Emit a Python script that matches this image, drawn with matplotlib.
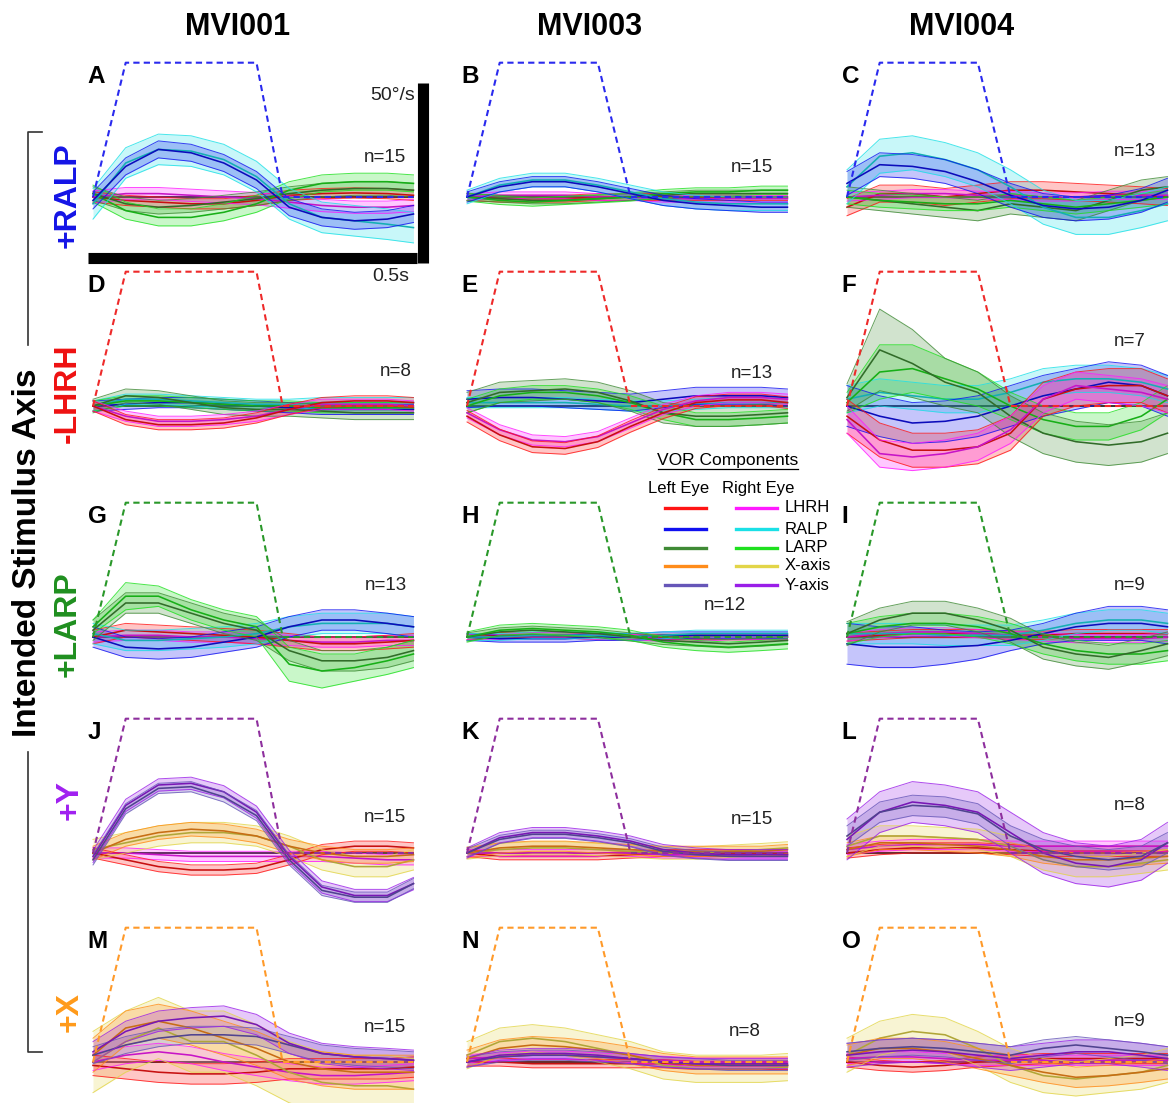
import numpy as np
import matplotlib.pyplot as plt
import matplotlib.colors as mcolors
from matplotlib.lines import Line2D

plt.rcParams['font.family'] = ['Liberation Sans', 'DejaVu Sans']

# ---- data ----
subjects = ["MVI001", "MVI003", "MVI004"]
stim_axes = ["+RALP", "-LHRH", "+LARP", "+Y", "+X"]
letters = "ABCDEFGHIJKLMNO"
n_trials = [[15, 15, 13], [8, 13, 7], [13, 12, 9], [15, 15, 8], [15, 8, 9]]

# sample times (s)
t = [0, 0.05, 0.10, 0.15, 0.20, 0.25, 0.30, 0.35, 0.40, 0.45, 0.49]

# stimulus trapezoid (deg/s)
stim_t_mvi001 = [0, 0.05, 0.25, 0.29, 0.49]
stim_t_other = [0, 0.05, 0.20, 0.25, 0.49]
stim_v = [0, 39.5, 39.5, 0, 0]

# eye velocity components: mean (deg/s), sd
panel_A = {
    "LHRH_L": ([0, -1, -1.5, -2, -2, -1, 0.5, 1, 1.2, 1, 0.5], 1.5),
    "LHRH_R": ([0, 1, 1, 0.5, 0, -0.5, -1.5, -2.5, -3, -3, -2.5], 1.8),
    "LARP_L": ([1, -2, -3, -2.5, -1.5, -0.5, 1, 2, 2.5, 2.5, 2], 2),
    "LARP_R": ([1, -4, -6, -6, -4.5, -2, 2, 4, 4.5, 4.5, 4], 2.5),
    "RALP_R": ([-2, 10, 14, 13.5, 11, 6, -2, -6, -7, -8, -9], 4.5),
    "RALP_L": ([-1, 9, 14, 13, 10, 5, -3, -6, -7, -6.5, -5], 2.5),
}
panel_B = {
    "LHRH_L": ([0, -0.5, -0.5, -0.5, 0, 0, 0, 0, 0, 0, 0], 1),
    "LHRH_R": ([0, 0.5, 0.5, 0.5, 0, 0, -0.5, -0.5, -0.5, -0.5, -0.5], 1),
    "LARP_L": ([0, -0.5, -1, -1, -0.5, 0, 0.5, 1, 1, 1, 1], 1),
    "LARP_R": ([0, -1, -1.5, -1, -0.5, 0, 1, 1.5, 1.5, 2, 2], 1.2),
    "RALP_R": ([0, 3.5, 5, 5, 3.5, 1.5, -0.5, -1.5, -2, -2, -2], 2),
    "RALP_L": ([0, 3, 4.5, 4.5, 3, 1, -1, -2, -2.5, -3, -3], 1.5),
}
panel_C = {
    "LHRH_L": ([-3, 1, 1, 0, 1, 2, 2, 1.5, 1, 0.5, 0], 2.5),
    "LHRH_R": ([0, 0.5, 1, 1, 0.5, 0.5, 0, 0, 0.5, 0.5, 0.5], 1.2),
    "LARP_L": ([0, -1, -2, -3, -4, -2, -3, -4, -1, 2, 3], 3),
    "LARP_R": ([0, -1, -1.5, -2, -2, -1, -2, -3, -2, -1, 0], 2),
    "RALP_R": ([3, 12, 13, 11, 8, 3, -3, -6, -6, -4, -2], 5),
    "RALP_L": ([4, 9.5, 9, 7.5, 4.5, 0.5, -2.5, -3.5, -3, -1, 2], 3.5),
}
panel_D = {
    "RALP_L": ([0, 0.5, 1, 1, 0.5, 0, -0.5, -1, -1, -1, -1], 1.5),
    "RALP_R": ([0, 2, 2, 1.5, 1, 0.5, 0.5, 1, 1, 1, 1], 1.5),
    "LARP_R": ([0, 1.5, 1.5, 1, 0.5, 0, 0, -0.5, -0.5, -0.5, -0.5], 1.5),
    "LARP_L": ([0, 3, 2.5, 1, -0.5, -1, -1, -1.5, -2, -2, -2], 2),
    "LHRH_R": ([0, -3, -4.5, -4.5, -4, -3, -1, 0.5, 0.5, 0.5, 0], 1.5),
    "LHRH_L": ([0, -4, -5.5, -5.5, -5, -3.5, -1, 1, 1.5, 1.5, 1], 1.5),
}
panel_E = {
    "RALP_R": ([1, 1, 1, 1, 0.5, 0, 0, 0.5, 1, 1, 1], 1.5),
    "RALP_L": ([2, 2.5, 2.5, 2, 1.5, 1, 2, 3, 3, 3, 2.5], 2.5),
    "LARP_R": ([0, 3, 4, 4, 3, 1, -2, -4, -4, -3.5, -3], 2),
    "LARP_L": ([1, 4, 4.5, 5, 4, 1.5, -2, -3, -3, -2.5, -2], 3),
    "LHRH_R": ([-2, -7, -10, -10.5, -9, -5, -1, 1.5, 2.5, 2.5, 2], 1.5),
    "LHRH_L": ([-3, -8.5, -12, -12.5, -10.5, -6, -2, 1, 1.8, 1.8, 1], 1.7),
}
panel_F = {
    "RALP_R": ([2, 4, 3, 2, 2, 4, 7, 8, 8, 7, 5], 4),
    "RALP_L": ([0, -3, -5, -4.5, -3, 0, 3, 5, 7, 6, 3], 6),
    "LARP_R": ([1, 10, 11, 8, 5, 0, -4, -6, -6, -3, 2],
               [3, 8, 7, 6, 5, 4, 4, 4, 4, 4, 4]),
    "LARP_L": ([2.5, 16.5, 12.5, 7, 4, -3, -8, -10.5, -11.5, -10.5, -8],
               [4, 12, 10, 7, 6, 6, 6, 6, 6, 6, 6]),
    "LHRH_L": ([-3, -10, -13, -13, -12, -8, 2, 5, 6, 6, 3], 5),
    "LHRH_R": ([-4, -14, -15, -14, -12, -7, 2, 6, 5, 4, 2], 4),
}
panel_G = {
    "LHRH_R": ([0, 0.5, 0.5, 0, 0, -0.5, -1, -1.5, -1.5, -1, -1], 1.5),
    "LHRH_L": ([0, 2, 1.5, 1, 0.5, 0, -1, -2, -2, -1.5, -1], 2),
    "RALP_R": ([1, -1, -1, -0.5, 0, 1, 3, 4, 4, 4, 3], 3),
    "RALP_L": ([0, -3, -3.5, -3, -1.5, 0, 3, 5, 5, 4, 3], 3),
    "LARP_L": ([2, 10, 10, 7, 4, 2, -4, -7, -7, -6, -4], 3),
    "LARP_R": ([3, 12, 12, 8, 5, 3, -8, -10, -9, -7, -5],
               [2, 4, 3, 3, 3, 3, 5, 5, 4, 4, 4]),
}
panel_H = {
    "LHRH_L": ([0, 0.5, 0.5, 0.5, 0, 0, 0, 0, 0, 0, 0], 0.8),
    "LHRH_R": ([0, 0, 0.5, 0.5, 0, 0, -0.5, -0.5, 0, 0, 0], 0.8),
    "RALP_L": ([0, -0.5, -0.5, -0.5, 0, 0, 0.5, 0.5, 0.5, 0.5, 0.5], 1),
    "RALP_R": ([0, 0, 0.5, 0.5, 0.5, 0, 0.5, 1, 1, 1, 1], 1),
    "LARP_L": ([0, 1.5, 2, 1.5, 1, 0, -1, -1.5, -2, -1.5, -1], 1.2),
    "LARP_R": ([0, 2, 2.5, 2, 1.5, 0.5, -1.5, -2.5, -3, -2.5, -2], 1.5),
}
panel_I = {
    "LHRH_L": ([0, 0.5, 1, 1, 1, 0.5, 0.5, 1, 1, 1, 1], 1.2),
    "LHRH_R": ([0, 1, 1.5, 1.5, 1, 0.5, 0, -0.5, -0.5, -0.5, 0], 1.2),
    "RALP_R": ([1, 1, 1, 0.5, 0.5, 0.5, 2, 4, 5, 5, 4], 3),
    "RALP_L": ([-2, -3, -3, -3, -2.5, -1, 1, 3, 4, 4, 3],
               [6, 6, 6, 5, 4, 3, 3, 4, 5, 5, 5]),
    "LARP_R": ([1, 3, 4, 4, 3, 1, -2, -4, -5, -5, -4], 3),
    "LARP_L": ([1, 5, 7, 7, 5, 2, -3, -5, -6, -4, -2], 3.5),
}
panel_J = {
    "LHRH_R": ([0, 0, -0.5, -1, -1, -1, -1, -1, -1.5, -2, -2], 1.5),
    "LHRH_L": ([0, -2, -4, -5, -5, -4.5, -2, 1, 2, 2, 1.5], 1.5),
    "X_R": ([1, 3, 5, 6, 6, 5, 2, -2, -4, -4, -2], 3),
    "X_L": ([0, 4, 6, 7, 6.5, 5, 2, 0, -1, -1, -0.5], 2),
    "Y_R": ([-1, 14, 20, 20.5, 18, 12, -1, -10, -12.5, -12.5, -9], 1.8),
    "Y_L": ([-2, 13, 19, 19.5, 16.5, 11, -2, -11, -13, -13, -9], 1.5),
}
panel_K = {
    "LHRH_L": ([0, -1, -1, -1, -1, -0.5, 0, 0, 0, 0, 0], 1),
    "LHRH_R": ([0, 0, 0, 0, 0, 0, -0.5, -0.5, -0.5, -0.5, -0.5], 1),
    "X_R": ([0, 1, 1.5, 1.5, 1, 0.5, 0, 0, 0.5, 1, 1.5], 1.8),
    "X_L": ([0, 1.5, 2, 2, 1.5, 1, 0.5, 0.5, 0.5, 0.5, 1], 1.5),
    "Y_R": ([0, 4.5, 6, 6, 5, 3.5, 1, 0, -0.5, -0.5, -0.5], 1.5),
    "Y_L": ([0, 4, 5.5, 5.5, 4.5, 3, 0.5, -0.5, -1, -1, -1], 1.2),
}
panel_L = {
    "LHRH_L": ([0, 1, 1.5, 1.5, 1.5, 1, 0.5, 0.5, 0.5, 0.5, 0.5], 1.5),
    "LHRH_R": ([1, 2, 2.5, 2.5, 2.5, 2, 2, 2, 2, 2, 2], 1.5),
    "X_L": ([1, 3, 3, 2.5, 2, 1, -1, -2, -2, -1.5, -1], 2),
    "X_R": ([2, 5, 5, 4.5, 4, 2, -2, -4, -4, -3, -2], 3),
    "Y_R": ([4, 12, 15, 14, 12, 6, 0, -3, -4, -2, 3], 6),
    "Y_L": ([5, 12, 14, 13.5, 11.5, 5, 1, -1, -2, -1, 3], 3),
}
panel_M = {
    "LHRH_L": ([-1, -2, -3, -3.5, -3.5, -3, -2, -2, -2, -2, -1.5], 3),
    "LHRH_R": ([0, 2, 3, 2, 0, -1.5, -3, -4, -4, -3.5, -3], 2.5),
    "X_R": ([0, 6, 10, 6, 6, 2, -3, -6, -7, -7, -8], 9),
    "X_L": ([2, 10, 12, 10, 7, 4, 0, -2, -3, -3, -3], 5),
    "Y_L": ([2, 5, 7, 8, 8, 7.5, 5, 2.5, 1.5, 1, 0.5], 2.5),
    "Y_R": ([3, 9, 12, 13, 13.5, 11, 5.5, 2.5, 1.5, 1, 0.5], 3),
}
panel_N = {
    "LHRH_L": ([0, 0, -0.5, -0.5, -0.5, -0.5, -0.5, -1, -1, -1, -1], 1.2),
    "LHRH_R": ([1, 1.5, 2, 2, 1.5, 1, 0.5, 0, 0, 0, 0], 1.2),
    "X_R": ([2, 6, 7, 6, 4, 2, -1, -2, -2, -2, -1.5], 4),
    "X_L": ([1, 4, 5, 4.5, 3.5, 2, 0, -1, -1, -1, -1], 2.5),
    "Y_L": ([0, 1.5, 2, 2, 1.5, 1, 0, -0.5, -1, -1, -1], 1.5),
    "Y_R": ([0, 2, 2.5, 2.5, 2, 1, 0, -0.5, -0.5, -0.5, -0.5], 1.5),
}
panel_O = {
    "LHRH_L": ([0, -1, -1.5, -1, 0, 0.5, 1, 1, 1, 1, 1], 1.5),
    "LHRH_R": ([1, 1.5, 1.5, 1, 0.5, 0.5, 0.5, 0.5, 0.5, 0.5, 0.5], 1.5),
    "X_R": ([2, 7, 9, 8, 4, -1, -4, -5, -4, -3, -1], 5),
    "X_L": ([2, 4, 4, 3, 1, -1, -3, -4.5, -4, -3, -2], 3),
    "Y_R": ([2, 3, 3.5, 3, 2, 1, 2, 3, 3, 2, 1], 3.5),
    "Y_L": ([3, 4, 4.5, 4, 3, 2, 4, 5, 4, 3, 2], 2.5),
}
panels = [panel_A, panel_B, panel_C, panel_D, panel_E, panel_F, panel_G, panel_H,
          panel_I, panel_J, panel_K, panel_L, panel_M, panel_N, panel_O]

# ---- style ----
comp_colors = {
    "LHRH_L": "#ff1414", "RALP_L": "#1010f0", "LARP_L": "#3f8a35",
    "X_L": "#ff8c1a", "Y_L": "#6656b8",
    "LHRH_R": "#ff1aff", "RALP_R": "#1ae0e6", "LARP_R": "#1ee01e",
    "X_R": "#e2d548", "Y_R": "#9a1ee8",
}
legend_rows = [("LHRH", "LHRH_L", "LHRH_R"), ("RALP", "RALP_L", "RALP_R"),
               ("LARP", "LARP_L", "LARP_R"), ("X-axis", "X_L", "X_R"),
               ("Y-axis", "Y_L", "Y_R")]
stim_colors = ["#2a2aee", "#ee2a2a", "#2a982a", "#8e2f9e", "#ff9a2a"]
label_colors = ["#1414e6", "#ee1111", "#1f8f1f", "#a020f0", "#ff9a1a"]

W, H = 1172, 1103
PX_S = 654    # px per second
PX_U = 3.4    # px per deg/s
col_x0 = [93, 467, 847]
row_y0 = [197, 406, 637, 853, 1062]
XL = (-0.008, 0.492)
YL = (-30, 45)

fig = plt.figure(figsize=(W / 100, H / 100), dpi=100)


def fpos(x, y):
    return x / W, 1 - y / H


def darker(c, f=0.78):
    r, g, b = mcolors.to_rgb(c)
    return (r * f, g * f, b * f)


n_px = [[(385, 158), (752, 168), (1135, 152)],
        [(396, 371), (752, 373), (1130, 341)],
        [(386, 585), (725, 606), (1130, 585)],
        [(385, 817), (752, 819), (1130, 806)],
        [(385, 1028), (745, 1031), (1130, 1021)]]

for r in range(5):
    for c in range(3):
        left = col_x0[c] + XL[0] * PX_S
        w = (XL[1] - XL[0]) * PX_S
        top = row_y0[r] - YL[1] * PX_U
        h = (YL[1] - YL[0]) * PX_U
        ax = fig.add_axes([left / W, 1 - (top + h) / H, w / W, h / H])
        ax.set_xlim(XL)
        ax.set_ylim(YL)
        ax.axis('off')

        ax.plot([t[0], t[-1]], [0, 0], color="#333333", lw=1.4, zorder=1.5)
        for key, (mean, sd) in panels[r * 3 + c].items():
            m = np.array(mean, float)
            s = np.broadcast_to(np.array(sd, float), m.shape)
            col = comp_colors[key]
            ax.fill_between(t, m - s, m + s, color=col, alpha=0.24, lw=0, zorder=2)
            ax.plot(t, m + s, color=col, lw=0.7, alpha=0.8, zorder=3)
            ax.plot(t, m - s, color=col, lw=0.7, alpha=0.8, zorder=3)
            ax.plot(t, m, color=darker(col), lw=1.15, zorder=3)

        st = stim_t_mvi001 if c == 0 else stim_t_other
        ax.plot(st, stim_v, color=stim_colors[r], lw=1.5,
                ls=(0, (3, 2)), zorder=4)

        ax.text(XL[0], 35.5, letters[r * 3 + c], fontsize=17.5, fontweight='bold',
                ha='left', va='center')
        nx, ny = n_px[r][c]
        fig.text(*fpos(nx, ny), "n=%d" % n_trials[r][c], fontsize=13.5,
                 color="#222222", ha='center', va='center')

        if r == 0 and c == 0:
            # scale bars
            ax.plot([-0.008, 0.495], [-17.8, -17.8], color='k', lw=8,
                    solid_capstyle='butt', clip_on=False, zorder=5)
            ax.plot([0.505, 0.505], [33.5, -19.4], color='k', lw=8,
                    solid_capstyle='butt', clip_on=False, zorder=5)
            ax.text(0.492, 30, "50°/s", fontsize=14, color="#222222",
                    ha='right', va='center')
            ax.text(0.483, -23.5, "0.5s", fontsize=14, color="#222222",
                    ha='right', va='center')

# column titles
for x, name in zip([238, 590, 962], subjects):
    fig.text(*fpos(x, 27), name, fontsize=22, fontweight='bold',
             ha='center', va='center')

# row labels
for (x, y), lab, col in zip([(68, 195), (68, 393), (68, 624), (70, 800), (70, 1012)],
                            stim_axes, label_colors):
    fig.text(*fpos(x, y), lab, fontsize=23, fontweight='bold', color=col,
             rotation=90, ha='center', va='center')

fig.text(*fpos(28, 553), "Intended Stimulus Axis", fontsize=24,
         fontweight='bold', rotation=90, ha='center', va='center')

# bracket
bk = "#333333"
for xs, ys in [([42, 28, 28], [132, 132, 345]), ([28, 28, 42], [752, 1052, 1052])]:
    fig.add_artist(Line2D([x / W for x in xs], [1 - y / H for y in ys],
                          color=bk, lw=1.2))

# legend
fig.text(*fpos(728, 461), "VOR Components", fontsize=12.5, ha='center',
         va='center')
fig.add_artist(Line2D([658 / W, 798 / W], [1 - 469 / H] * 2, color='k', lw=0.9))
fig.text(*fpos(679, 488), "Left Eye", fontsize=12, ha='center', va='center')
fig.text(*fpos(758, 488), "Right Eye", fontsize=12, ha='center', va='center')
for i, (lab, kl, kr) in enumerate(legend_rows):
    y = [508, 529, 548, 566, 585][i]
    fig.add_artist(Line2D([665 / W, 706 / W], [1 - y / H] * 2,
                          color=comp_colors[kl], lw=2.4))
    fig.add_artist(Line2D([736 / W, 777 / W], [1 - y / H] * 2,
                          color=comp_colors[kr], lw=2.4))
    fig.text(*fpos(785, y), lab, fontsize=12, ha='left', va='center')

fig.savefig("out.png", dpi=100)
